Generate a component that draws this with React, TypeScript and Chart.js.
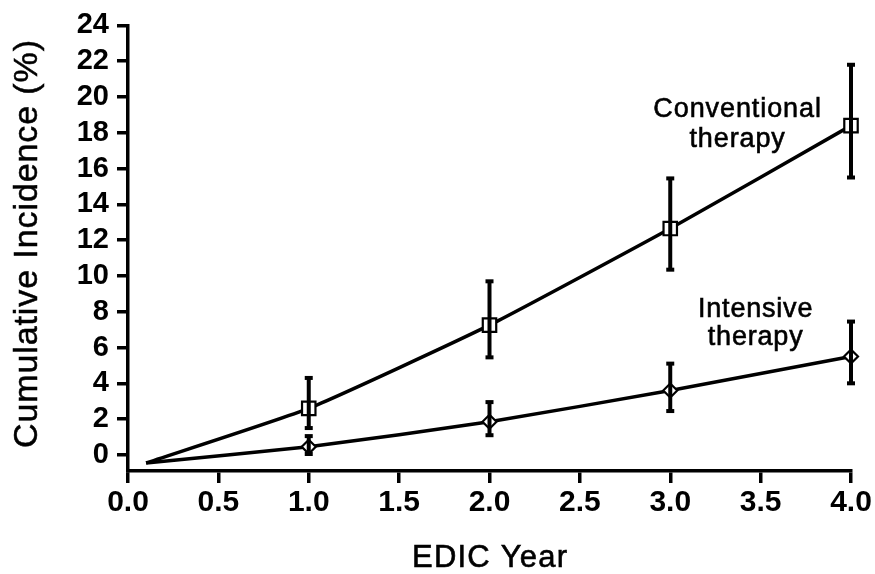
import React, { useEffect, useRef } from "react";
import { Chart, registerables } from "chart.js";

Chart.register(...registerables);

// ---- data ----
const years = [1, 2, 3, 4];
const startYear = 0.1;
const startValue = -0.45;
const conventional = [2.6, 7.25, 12.65, 18.4];
const conventionalLow = [1.5, 5.45, 10.35, 15.5];
const conventionalHigh = [4.3, 9.7, 15.45, 21.8];
const intensive = [0.45, 1.85, 3.6, 5.5];
const intensiveLow = [0.05, 1.1, 2.45, 4.0];
const intensiveHigh = [1.05, 2.95, 5.1, 7.45];
const xTicks = [0, 0.5, 1, 1.5, 2, 2.5, 3, 3.5, 4];
const yTicks = [0, 2, 4, 6, 8, 10, 12, 14, 16, 18, 20, 22, 24];
const xTitle = "EDIC Year";
const yTitle = "Cumulative Incidence (%)";
const conventionalLabel = ["Conventional", "therapy"];
const intensiveLabel = ["Intensive", "therapy"];

const FONT = "'Liberation Sans', Arial, Helvetica, sans-serif";

function drawSpaced(ctx: CanvasRenderingContext2D, text: string, x: number, y: number, spacing: number, stroke = 0) {
  (ctx as any).letterSpacing = spacing + "px";
  const w = ctx.measureText(text).width;
  ctx.textAlign = "left";
  const sx = x - (w - spacing) / 2;
  ctx.fillText(text, sx, y);
  if (stroke > 0) {
    ctx.lineWidth = stroke;
    ctx.strokeStyle = "#000";
    ctx.strokeText(text, sx, y);
  }
  (ctx as any).letterSpacing = "0px";
}

const errorBarPlugin = {
  id: "errorBars",
  afterDatasetsDraw(chart: any) {
    const ctx = chart.ctx as CanvasRenderingContext2D;
    const xs = chart.scales.x;
    const ys = chart.scales.y;
    const series = [
      [conventionalLow, conventionalHigh],
      [intensiveLow, intensiveHigh],
    ];
    ctx.save();
    ctx.fillStyle = "#000";
    ctx.strokeStyle = "#000";
    series.forEach(([lo, hi]) => {
      years.forEach((yr, i) => {
        const px = xs.getPixelForValue(yr);
        const pLo = ys.getPixelForValue(lo[i]);
        const pHi = ys.getPixelForValue(hi[i]);
        ctx.lineWidth = 4;
        ctx.beginPath();
        ctx.moveTo(px, pLo);
        ctx.lineTo(px, pHi);
        ctx.stroke();
        ctx.fillRect(px - 4, pLo - 2, 8, 4);
        ctx.fillRect(px - 4, pHi - 2, 8, 4);
      });
    });
    ctx.restore();
  },
  afterDraw(chart: any) {
    const ctx = chart.ctx as CanvasRenderingContext2D;
    const xs = chart.scales.x;
    const ys = chart.scales.y;
    ctx.save();
    ctx.fillStyle = "#000";
    ctx.textBaseline = "alphabetic";

    // series labels
    ctx.font = `27px ${FONT}`;
    const cx = xs.getPixelForValue(3.37);
    drawSpaced(ctx, conventionalLabel[0], cx, ys.getPixelForValue(18.86), 0.9, 0.6);
    drawSpaced(ctx, conventionalLabel[1], cx, ys.getPixelForValue(17.2), 0.9, 0.6);
    const ix = xs.getPixelForValue(3.47);
    drawSpaced(ctx, intensiveLabel[0], ix, ys.getPixelForValue(7.72), 0.8, 0.6);
    drawSpaced(ctx, intensiveLabel[1], ix, ys.getPixelForValue(6.14), 0.8, 0.6);

    // x title
    ctx.font = `31px ${FONT}`;
    const area = chart.chartArea;
    drawSpaced(ctx, xTitle, (area.left + area.right) / 2, 567, 1.2, 0.6);

    // y title
    ctx.font = `34px ${FONT}`;
    ctx.translate(37, 244);
    ctx.rotate(-Math.PI / 2);
    drawSpaced(ctx, yTitle, 0, 0, 0.9, 0.5);
    ctx.restore();
  },
};

export default function App() {
  const ref = useRef<HTMLCanvasElement | null>(null);
  useEffect(() => {
    document.body.style.margin = "0";
    const canvas = ref.current!;
    const mk = (vals: number[]) => [
      { x: startYear, y: startValue },
      ...years.map((x, i) => ({ x, y: vals[i] })),
    ];
    const chart = new Chart(canvas, {
      type: "line",
      data: {
        datasets: [
          {
            label: "Conventional therapy",
            data: mk(conventional),
            borderColor: "#000",
            borderWidth: 3.5,
            tension: 0.15,
            pointStyle: "rect",
            pointRadius: [0, 9.5, 9.5, 9.5, 9.5],
            pointBackgroundColor: "#fff",
            pointBorderColor: "#000",
            pointBorderWidth: 2.2,
            clip: false as any,
          },
          {
            label: "Intensive therapy",
            data: mk(intensive),
            borderColor: "#000",
            borderWidth: 3.5,
            tension: 0.15,
            pointStyle: "rectRot",
            pointRadius: [0, 7, 7, 7, 7],
            pointBackgroundColor: "#fff",
            pointBorderColor: "#000",
            pointBorderWidth: 2.2,
            clip: false as any,
          },
        ],
      },
      options: {
        responsive: false,
        animation: false,
        layout: { padding: { left: 0, right: 24, top: 25, bottom: 0 } },
        plugins: { legend: { display: false }, tooltip: { enabled: false } },
        scales: {
          x: {
            type: "linear",
            min: 0,
            max: 4,
            afterBuildTicks: (s: any) => {
              s.ticks = xTicks.map((v) => ({ value: v }));
            },
            afterFit: (s: any) => {
              s.height = 103;
            },
            ticks: {
              callback: (v: any) => Number(v).toFixed(1),
              font: { family: FONT, size: 30, weight: "bold" },
              color: "#000",
              padding: 2,
              maxRotation: 0,
              autoSkip: false,
            },
            grid: { drawOnChartArea: false, tickLength: 12, color: "#000", lineWidth: 3.5 },
            border: { color: "#000", width: 3.5 },
          },
          y: {
            type: "linear",
            min: -0.9,
            max: 24,
            afterBuildTicks: (s: any) => {
              s.ticks = yTicks.map((v) => ({ value: v }));
            },
            afterFit: (s: any) => {
              s.width = 128;
            },
            ticks: {
              font: { family: FONT, size: 29, weight: "bold" },
              color: "#000",
              padding: 8,
              autoSkip: false,
            },
            grid: { drawOnChartArea: false, tickLength: 11, color: "#000", lineWidth: 3.5 },
            border: { color: "#000", width: 3.5 },
          },
        },
      } as any,
      plugins: [errorBarPlugin],
    });
    return () => chart.destroy();
  }, []);
  return (
    <div style={{ width: 875, height: 574, background: "#fff" }}>
      <canvas ref={ref} width={875} height={574} style={{ display: "block" }} />
    </div>
  );
}
